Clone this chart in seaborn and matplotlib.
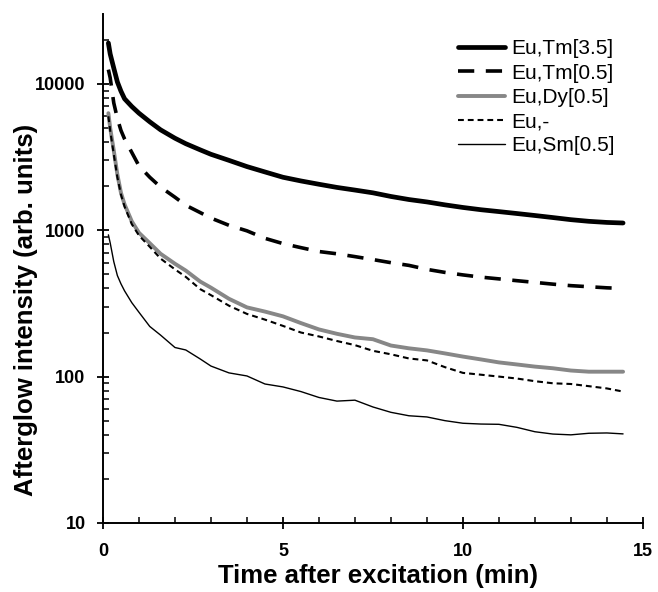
"""
Afterglow decay curves, log intensity vs time after excitation
"""

import numpy as np
import seaborn as sns
from matplotlib import pyplot as plt
from matplotlib.ticker import FixedLocator, NullFormatter

# time after excitation (min)
time_min = [0.15, 0.2, 0.3, 0.4, 0.5, 0.6, 0.8, 1.0, 1.3, 1.6, 2.0, 2.3, 2.7,
            3.0, 3.5, 4.0, 4.5, 5.0, 5.5, 6.0, 6.5, 7.0, 7.5, 8.0, 8.5, 9.0,
            9.5, 10.0, 10.5, 11.0, 11.5, 12.0, 12.5, 13.0, 13.5, 14.0, 14.45]

eu_tm35 = [19000, 16000, 12800, 10300, 8900, 7900, 7000, 6300, 5500, 4850,
           4250, 3900, 3540, 3300, 3000, 2720, 2500, 2300, 2170, 2060, 1960,
           1880, 1800, 1700, 1620, 1560, 1490, 1430, 1380, 1340, 1300, 1260,
           1220, 1180, 1150, 1130, 1120]
eu_tm05 = [12500, 11000, 7400, 5800, 4800, 4200, 3400, 2750, 2300, 1970, 1680,
           1480, 1320, 1210, 1080, 990, 880, 810, 760, 715, 690, 660, 630, 600,
           575, 540, 515, 495, 478, 465, 452, 440, 428, 418, 411, 404, 400]
eu_dy05 = [6300, 5000, 3500, 2400, 1800, 1500, 1150, 960, 815, 690, 590, 530,
           446, 405, 340, 297, 278, 258, 232, 210, 196, 185, 180, 163, 156, 151,
           144, 137, 131, 125, 121, 117, 114, 110, 108, 108, 108]
eu_only = [6000, 4800, 3300, 2300, 1750, 1450, 1100, 920, 770, 640, 540, 480,
           396, 360, 305, 268, 245, 222, 200, 188, 175, 164, 150, 142, 133, 129,
           116, 106, 103, 100, 97, 93, 90, 89, 86, 83, 79]
eu_sm05 = [930, 820, 610, 490, 430, 385, 320, 275, 220, 192, 158, 152, 132,
           118, 106, 101, 89, 85, 79, 72, 68, 69, 62, 57, 54, 53, 50, 48, 47.4,
           47.2, 45, 42, 40.5, 40, 41, 41.2, 40.6]

labels = ["Eu,Tm[3.5]", "Eu,Tm[0.5]", "Eu,Dy[0.5]", "Eu,-", "Eu,Sm[0.5]"]

sns.set_style("ticks")
plt.rcParams["font.family"] = ["Liberation Sans", "DejaVu Sans"]
plt.rcParams["text.color"] = "black"
plt.rcParams["axes.labelcolor"] = "black"
plt.rcParams["xtick.color"] = "black"
plt.rcParams["ytick.color"] = "black"

fig = plt.figure(figsize=(6.58, 5.92), dpi=100)
ax = fig.add_axes([0.1565, 0.1166, 0.8205, 0.8598])

# series styles
sns.lineplot(x=time_min, y=eu_tm35, ax=ax, color="black", lw=3.4,
             label=labels[0])
sns.lineplot(x=time_min, y=eu_tm05, ax=ax, color="black", lw=2.6,
             linestyle=(0, (4.5, 3.2)), label=labels[1])
sns.lineplot(x=time_min, y=eu_dy05, ax=ax, color="#878787", lw=2.8,
             label=labels[2])
sns.lineplot(x=time_min, y=eu_only, ax=ax, color="black", lw=1.5,
             linestyle=(0, (2.8, 1.9)), label=labels[3])
sns.lineplot(x=time_min, y=eu_sm05, ax=ax, color="black", lw=1.0,
             label=labels[4])

ax.set_yscale("log")
ax.set_xlim(0, 15)
ax.set_ylim(10, 30000)

# axis ticks
ax.xaxis.set_major_locator(FixedLocator([0, 5, 10, 15]))
ax.xaxis.set_minor_locator(FixedLocator(np.arange(1, 15)))
ax.yaxis.set_major_locator(FixedLocator([10, 100, 1000, 10000]))
ax.yaxis.set_minor_locator(FixedLocator(
    [m * 10 ** e for e in range(1, 5) for m in range(2, 10) if m * 10 ** e < 30000]))
ax.yaxis.set_minor_formatter(NullFormatter())
ax.set_yticklabels(["10", "100", "1000", "10000"])
ax.set_xticklabels(["0", "5", "10", "15"])

ax.tick_params(which="major", direction="inout", length=9, width=1.3,
               labelsize=13, pad=8, color="black")
ax.tick_params(which="minor", direction="in", length=4, width=1.1,
               color="black")
ax.tick_params(axis="x", which="major", pad=10)
for lbl in ax.get_xticklabels() + ax.get_yticklabels():
    lbl.set_fontweight("bold")

sns.despine(ax=ax)
for side in ["left", "bottom"]:
    ax.spines[side].set_linewidth(1.4)
    ax.spines[side].set_color("black")

ax.set_xlabel("Time after excitation (min)", fontsize=18.5, fontweight="bold")
ax.set_ylabel("Afterglow intensity (arb. units)", fontsize=18.5,
              fontweight="bold")
ax.xaxis.set_label_coords(0.509, -0.08)
ax.yaxis.set_label_coords(-0.12, 0.418)

ax.legend(loc="upper left", bbox_to_anchor=(0.657, 0.95), frameon=False,
          fontsize=15, handlelength=2.25, handletextpad=0.34, labelspacing=0.25,
          borderpad=0, borderaxespad=0)

plt.savefig("out.png", dpi=100)
